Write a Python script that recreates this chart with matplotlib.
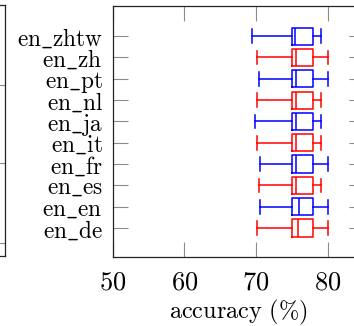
import matplotlib
matplotlib.use("Agg")
import matplotlib.pyplot as plt

plt.rcParams['mathtext.fontset'] = 'cm'
plt.rcParams['font.family'] = ['DejaVu Serif']

# data (bottom -> top)
languages = ['en_de', 'en_en', 'en_es', 'en_fr', 'en_it', 'en_ja', 'en_nl', 'en_pt', 'en_zh', 'en_zhtw']
whis_lo = [70.15, 70.5, 70.4, 70.6, 70.15, 69.8, 70.15, 70.4, 70.15, 69.4]
q1 = [75.0, 75.0, 75.0, 75.0, 75.0, 75.0, 75.0, 75.0, 75.0, 75.0]
median = [75.8, 76.0, 75.6, 75.6, 75.6, 75.6, 75.6, 75.6, 75.6, 75.4]
q3 = [78.0, 78.0, 78.0, 78.0, 78.0, 78.0, 78.0, 78.0, 78.0, 78.0]
whis_hi = [80.0, 80.0, 79.0, 80.0, 79.0, 79.0, 79.0, 80.0, 80.0, 79.0]
colors = ['#ff0000', '#0000ff'] * 5
xticks = [50, 60, 70, 80]
left_panel_ticks = [0.682, 0.371, 0.052]

W, H = 354, 326
fig = plt.figure(figsize=(W / 100, H / 100), dpi=100)

tick_gray = '#8c8c8c'
spine_col = '#222222'

# main axes
l, r, t, b = 112.7, 363.5, 6.0, 256.5
ax = fig.add_axes([l / W, 1 - b / H, (r - l) / W, (b - t) / H])

for i, lang in enumerate(languages):
    stats = [dict(whislo=whis_lo[i], q1=q1[i], med=median[i], q3=q3[i], whishi=whis_hi[i], fliers=[])]
    c = colors[i]
    ax.bxp(stats, positions=[i + 1], vert=False, widths=0.8, capwidths=0.64,
           showfliers=False,
           boxprops=dict(color=c, linewidth=1.1),
           medianprops=dict(color=c, linewidth=1.1),
           whiskerprops=dict(color=c, linewidth=1.1),
           capprops=dict(color=c, linewidth=1.1))

ax.set_xlim(50, 85)
ax.set_ylim(-0.336, 11.41)
ax.set_yticks(range(1, len(languages) + 1))
ax.set_yticklabels([r'$\mathrm{' + s.replace('_', r'\_') + '}$' for s in languages], fontsize=16.8)
ax.set_xticks(xticks)
ax.set_xticklabels([r'$\mathrm{%d}$' % v for v in xticks], fontsize=19)
ax.tick_params(axis='both', direction='in', length=11, width=0.8, color=tick_gray,
               top=True, right=True)
ax.tick_params(axis='y', pad=7)
ax.tick_params(axis='x', pad=9)
ax.set_xlabel(r'$\mathrm{accuracy\ (\%)}$', fontsize=17.5)
ax.xaxis.set_label_coords(0.5, -0.166)
for s in ax.spines.values():
    s.set_color(spine_col)
    s.set_linewidth(0.9)

# partial neighbouring axes on the left
l2, r2 = -200.0, 4.5
ax2 = fig.add_axes([l2 / W, 1 - 256.0 / H, (r2 - l2) / W, (256.0 - 5.0) / H])
ax2.set_xlim(0, 1)
ax2.set_ylim(0, 1)
ax2.set_xticks([])
ax2.set_yticks(left_panel_ticks)
ax2.tick_params(axis='y', direction='in', length=11, width=0.8, color=tick_gray,
                left=False, right=True, labelleft=False, labelright=False)
for s in ax2.spines.values():
    s.set_color(spine_col)
    s.set_linewidth(0.9)

fig.savefig('out.png', dpi=100)
